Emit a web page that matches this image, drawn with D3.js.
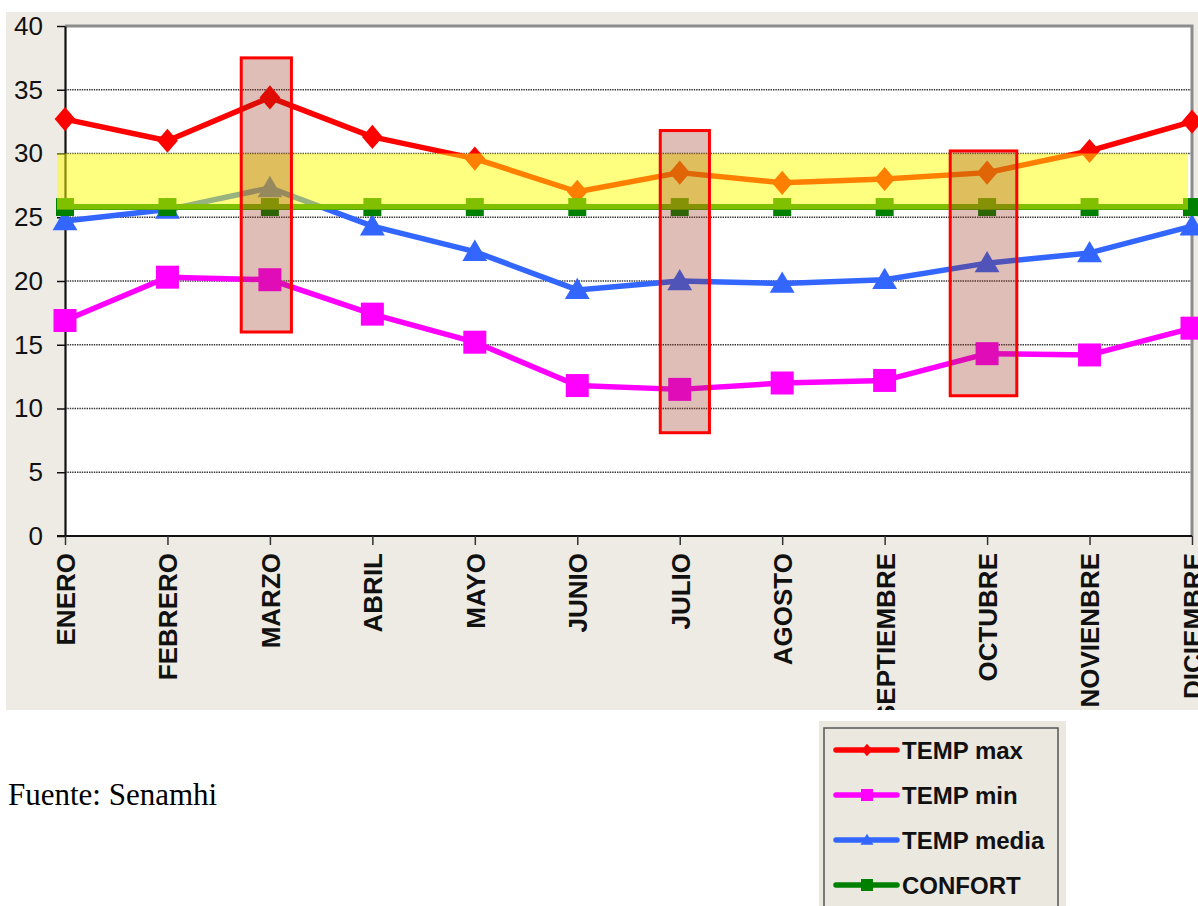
<!DOCTYPE html>
<html>
<head>
<meta charset="utf-8">
<script src="https://cdn.jsdelivr.net/npm/d3@7"></script>
<style>
  html, body { margin: 0; padding: 0; background: #ffffff; }
  svg { display: block; }
</style>
</head>
<body>
<svg id="chart" width="1198" height="906"></svg>
<script>
// Monthly temperatures (°C)
const months = ["ENERO", "FEBRERO", "MARZO", "ABRIL", "MAYO", "JUNIO", "JULIO",
                "AGOSTO", "SEPTIEMBRE", "OCTUBRE", "NOVIENBRE", "DICIEMBRE"];
const tempMax   = [32.7, 31.0, 34.4, 31.3, 29.6, 27.0, 28.5, 27.7, 28.0, 28.5, 30.2, 32.5];
const tempMin   = [16.9, 20.3, 20.1, 17.4, 15.2, 11.8, 11.5, 12.0, 12.2, 14.3, 14.2, 16.3];
const tempMedia = [24.7, 25.6, 27.3, 24.3, 22.3, 19.3, 20.0, 19.8, 20.1, 21.4, 22.2, 24.3];
const confort   = [25.8, 25.8, 25.8, 25.8, 25.8, 25.8, 25.8, 25.8, 25.8, 25.8, 25.8, 25.8];
const yTicks = [0, 5, 10, 15, 20, 25, 30, 35, 40];

// Comfort range shaded in yellow
const comfortBand = [25.6, 30];

// Critical months (month index span and temperature span)
const highlightFrom   = [1.72, 5.81, 8.64];
const highlightTo     = [2.21, 6.29, 9.29];
const highlightTop    = [37.5, 31.8, 30.2];
const highlightBottom = [16.0, 8.1, 11.0];

const seriesNames  = ["TEMP max", "TEMP min", "TEMP media", "CONFORT"];
const seriesColors = ["#ff0000", "#ff00ff", "#3366ff", "#008000"];
const seriesShapes = ["diamond", "square", "triangle", "square"];

const svg = d3.select("#chart");

// Layout
const plot = { left: 65, right: 1192, top: 26, bottom: 536 };
const panel = { x: 6, y: 12, w: 1192, h: 698 };

svg.append("defs").append("clipPath")
  .attr("id", "panel-clip")
  .append("rect")
  .attr("x", panel.x).attr("y", panel.y).attr("width", panel.w).attr("height", panel.h);

// Beige chart panel
svg.append("rect")
  .attr("x", panel.x).attr("y", panel.y).attr("width", panel.w).attr("height", panel.h)
  .attr("fill", "#eeebe4");

// Plot area
svg.append("rect")
  .attr("x", plot.left).attr("y", plot.top)
  .attr("width", plot.right - plot.left).attr("height", plot.bottom - plot.top)
  .attr("fill", "#ffffff");

const x = d3.scalePoint().domain(months).range([plot.left, plot.right]).padding(0);
const xi = d3.scaleLinear().domain([0, months.length - 1]).range([plot.left, plot.right]);
const y = d3.scaleLinear().domain([0, 40]).range([plot.bottom, plot.top]);

// Dotted gridlines
svg.append("g")
  .selectAll("line")
  .data(yTicks.filter(t => t > 0 && t < 40))
  .join("line")
  .attr("x1", plot.left).attr("x2", plot.right)
  .attr("y1", d => y(d)).attr("y2", d => y(d))
  .attr("stroke", "#333")
  .attr("stroke-width", 1.6)
  .attr("stroke-dasharray", "1.4 1");

// Top and right frame
svg.append("path")
  .attr("d", `M${plot.left},${plot.top}H${plot.right}V${plot.bottom}`)
  .attr("fill", "none")
  .attr("stroke", "#8c8c8c")
  .attr("stroke-width", 3);

// Axes
const yAxis = svg.append("g")
  .attr("transform", `translate(${plot.left},0)`)
  .call(d3.axisLeft(y).tickValues(yTicks).tickSize(8).tickPadding(14).tickSizeOuter(0));
yAxis.select(".domain").attr("stroke", "#111").attr("stroke-width", 2.2);
yAxis.selectAll(".tick line").attr("stroke", "#111").attr("stroke-width", 1.5);
yAxis.selectAll(".tick text")
  .attr("font-family", "Liberation Sans, Arial, sans-serif")
  .attr("font-size", 26)
  .attr("fill", "#111");

const xAxis = svg.append("g")
  .attr("clip-path", "url(#panel-clip)")
  .append("g")
  .attr("transform", `translate(0,${plot.bottom})`)
  .call(d3.axisBottom(x).tickSize(9).tickSizeOuter(0));
xAxis.select(".domain")
  .attr("d", `M${plot.left - 8},0H${plot.right}`)
  .attr("stroke", "#111").attr("stroke-width", 2.2);
xAxis.selectAll(".tick line").attr("stroke", "#333").attr("stroke-width", 1.5);
xAxis.selectAll(".tick text")
  .attr("font-family", "Liberation Sans, Arial, sans-serif")
  .attr("font-size", 26)
  .attr("font-weight", "bold")
  .attr("fill", "#111")
  .attr("text-anchor", "end")
  .attr("transform", "rotate(-90)")
  .attr("x", -17)
  .attr("y", 0)
  .attr("dy", "0.36em");

// Marker shapes
function markerPath(shape, s) {
  if (shape === "diamond") {
    return `M0,${-s * 1.05}L${s * 0.9},0L0,${s * 1.05}L${-s * 0.9},0Z`;
  }
  if (shape === "square") {
    return `M${-s},${-s}H${s}V${s}H${-s}Z`;
  }
  // triangle
  return `M0,${-s * 1.05}L${s * 1.08},${s * 0.8}L${-s * 1.08},${s * 0.8}Z`;
}

const seriesValues = [tempMax, tempMin, tempMedia, confort];
const markerSize = [11.5, 11.5, 11.5, 9];
const lineWidth = [5.5, 5.5, 5.5, 6];

const line = d3.line().x((d, i) => x(months[i])).y(d => y(d));

seriesValues.forEach((vals, k) => {
  const g = svg.append("g");
  g.append("path")
    .datum(vals)
    .attr("d", line)
    .attr("fill", "none")
    .attr("stroke", seriesColors[k])
    .attr("stroke-width", lineWidth[k])
    .attr("stroke-linejoin", "round");
  g.selectAll("path.mk")
    .data(vals)
    .join("path")
    .attr("class", "mk")
    .attr("transform", (d, i) => `translate(${x(months[i])},${y(d)})`)
    .attr("d", markerPath(seriesShapes[k], markerSize[k]))
    .attr("fill", seriesColors[k]);
});

// Comfort band, translucent over the lines
svg.append("rect")
  .attr("x", plot.left - 8)
  .attr("y", y(comfortBand[1]))
  .attr("width", plot.right - 4 - (plot.left - 8))
  .attr("height", y(comfortBand[0]) - y(comfortBand[1]))
  .attr("fill", "#ffff00")
  .attr("fill-opacity", 0.5);

// Highlighted months
svg.append("g")
  .selectAll("rect")
  .data(highlightFrom.map((f, i) => i))
  .join("rect")
  .attr("x", i => xi(highlightFrom[i]))
  .attr("y", i => y(highlightTop[i]))
  .attr("width", i => xi(highlightTo[i]) - xi(highlightFrom[i]))
  .attr("height", i => y(highlightBottom[i]) - y(highlightTop[i]))
  .attr("fill", "rgb(150,40,20)")
  .attr("fill-opacity", 0.3)
  .attr("stroke", "#ff0000")
  .attr("stroke-width", 3);

// Source note
svg.append("text")
  .attr("x", 8).attr("y", 805)
  .attr("font-family", "Liberation Serif, Times New Roman, serif")
  .attr("font-size", 31)
  .attr("fill", "#000")
  .text("Fuente: Senamhi");

// Legend
const legend = svg.append("g");
legend.append("rect")
  .attr("x", 819).attr("y", 721).attr("width", 247).attr("height", 190)
  .attr("fill", "#ebe8e0");
legend.append("rect")
  .attr("x", 824).attr("y", 728).attr("width", 234).attr("height", 190)
  .attr("fill", "none")
  .attr("stroke", "#555")
  .attr("stroke-width", 1.5);

const legendY = d3.scalePoint().domain(seriesNames).range([750, 885]);

seriesNames.forEach((name, k) => {
  const ly = legendY(name);
  legend.append("line")
    .attr("x1", 836).attr("x2", 897)
    .attr("y1", ly).attr("y2", ly)
    .attr("stroke", seriesColors[k])
    .attr("stroke-width", 5.5)
    .attr("stroke-linecap", "round");
  legend.append("path")
    .attr("transform", `translate(867,${ly})`)
    .attr("d", markerPath(seriesShapes[k], 6))
    .attr("fill", seriesColors[k]);
  legend.append("text")
    .attr("x", 902).attr("y", ly)
    .attr("dy", "0.36em")
    .attr("font-family", "Liberation Sans, Arial, sans-serif")
    .attr("font-size", 24)
    .attr("font-weight", "bold")
    .attr("fill", "#111")
    .text(name);
});
</script>
</body>
</html>
